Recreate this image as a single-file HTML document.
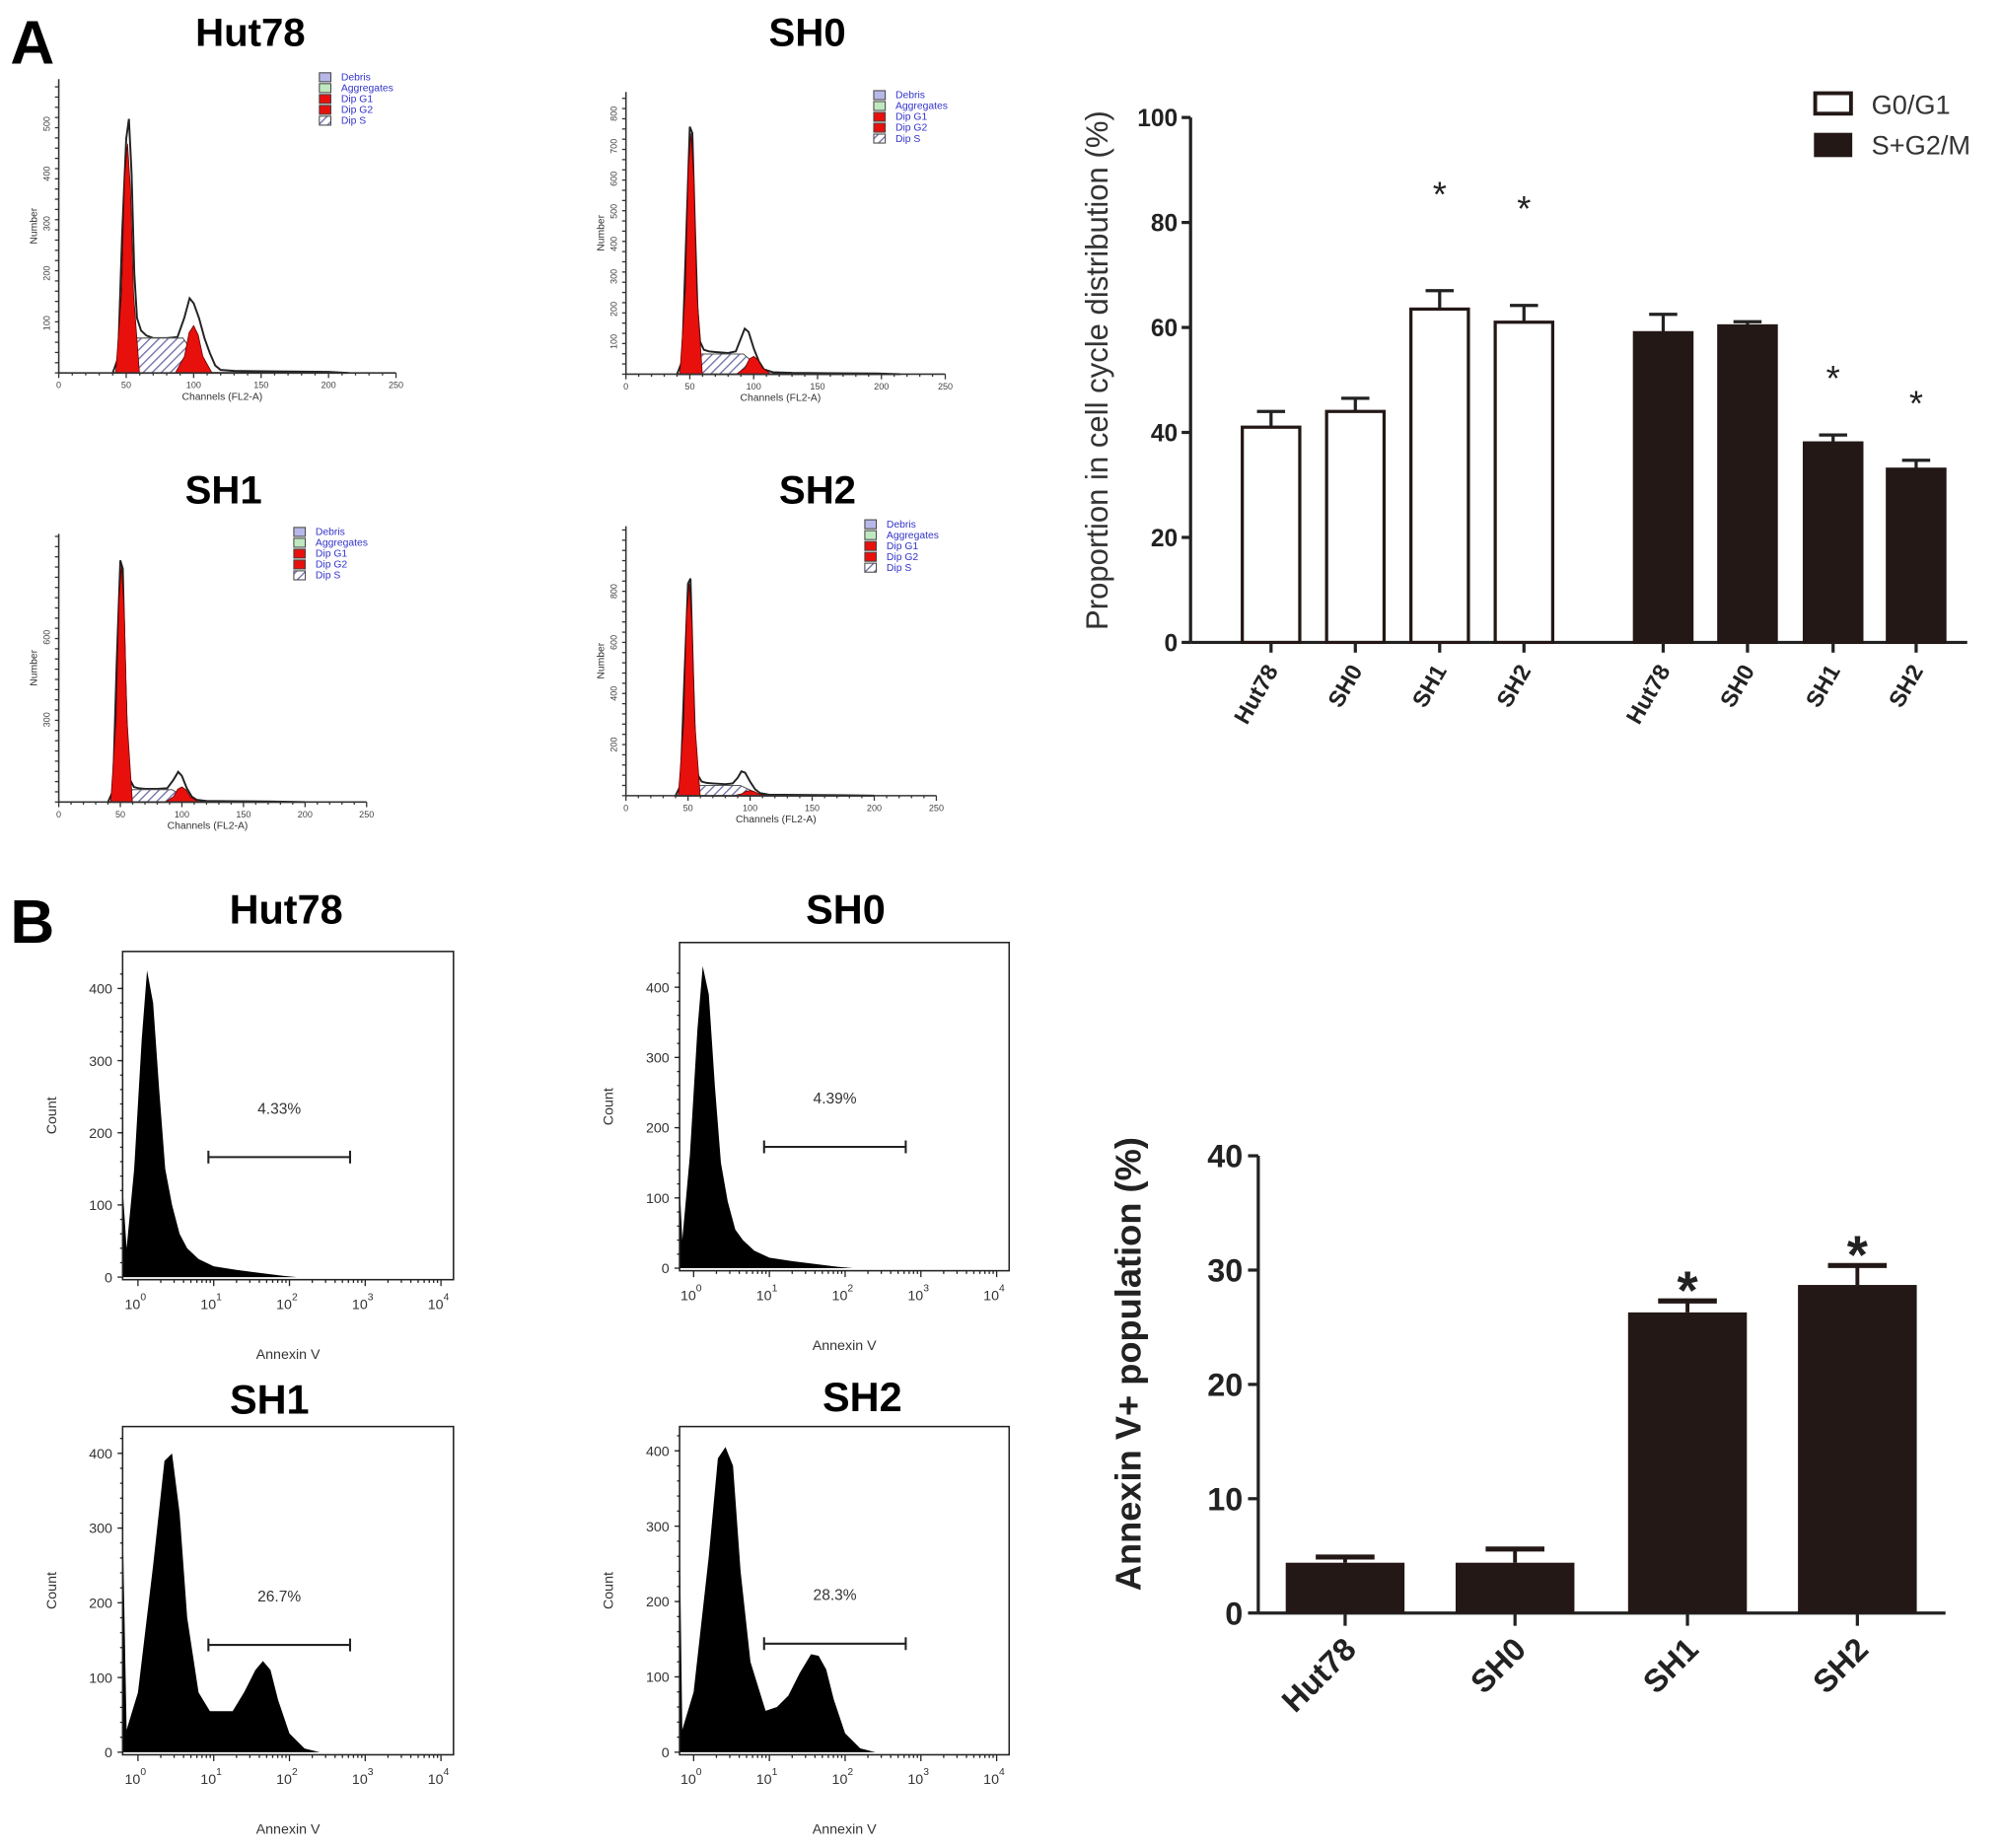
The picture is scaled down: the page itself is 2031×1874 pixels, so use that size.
<!DOCTYPE html>
<html><head><meta charset="utf-8"><style>
html,body{margin:0;padding:0;background:#fff;}
svg{display:block;font-family:"Liberation Sans",Arial,sans-serif;}
</style></head><body>
<svg id="fig" width="2031" height="1874" viewBox="0 0 1568 1447" preserveAspectRatio="none" xmlns="http://www.w3.org/2000/svg">
<defs>
<pattern id="hatch" patternUnits="userSpaceOnUse" width="5" height="5" patternTransform="rotate(45)">
<rect width="5" height="5" fill="#fff"/><line x1="0" y1="0" x2="0" y2="5" stroke="#6a6aa8" stroke-width="2"/></pattern>
</defs>
<text x="8" y="50" font-size="48" font-weight="bold">A</text>
<text x="8" y="738" font-size="48" font-weight="bold">B</text>
<g id="left"></g>
<g id="chartA"></g>
<g id="chartB"></g>
</svg>
<script>
// ===== Bar chart A data =====
const cycleCategories = ["Hut78","SH0","SH1","SH2"];
const g0g1Values = [41, 44, 63.5, 61];
const g0g1Errors = [3, 2.5, 3.5, 3.2];
const sg2mValues = [59, 60.3, 38, 33];
const sg2mErrors = [3.5, 0.8, 1.5, 1.7];
const g0g1Sig = [false, false, true, true];
const sg2mSig = [false, false, true, true];
const cycleTicks = [0,20,40,60,80,100];
// ===== Bar chart B data =====
const annexinCategories = ["Hut78","SH0","SH1","SH2"];
const annexinValues = [4.4, 4.4, 26.3, 28.7];
const annexinErrors = [0.5, 1.2, 1.0, 1.7];
const annexinSig = [false, false, true, true];
const annexinTicks = [0,10,20,30,40];
// ===== Cell-cycle histograms (channels, counts) =====
const ccHut78Ch = [40,44,47,50,52,54,56,58,61,65,70,80,88,93,97,100,104,108,112,116,120,130,160,200,215];
const ccHut78Tot = [0,30,280,470,510,400,200,110,85,75,70,70,72,110,150,140,110,70,40,15,6,4,3,2,0];
const ccSH0Ch = [40,44,47,50,52,54,56,58,61,65,70,80,86,90,93,96,100,104,108,115,130,160,200,215];
const ccSH0Tot = [0,40,400,760,740,450,200,100,75,70,68,65,70,110,140,130,80,40,15,6,4,3,2,0];
const ccSH1Ch = [40,44,47,50,52,54,56,58,61,65,70,80,88,93,97,100,104,108,112,120,140,170,200];
const ccSH1Tot = [0,40,500,880,850,450,160,80,55,50,48,48,50,80,110,95,50,20,8,4,3,2,0];
const ccSH2Ch = [40,44,47,50,52,54,56,58,61,65,70,80,86,90,93,96,100,104,108,115,140,170,200];
const ccSH2Tot = [0,40,450,830,850,480,160,80,55,50,48,45,48,70,95,90,55,25,10,4,3,2,0];
const g1Shape = [0,0.35,0.85,1,0.8,0.35,0];
const g1Offsets = [-8,-4,-2,0,2,4,8];
const ccG1Peaks = [460, 740, 860, 830];
const ccG2Peaks = [95, 55, 55, 20];
const ccSLevels = [70, 62, 45, 40];
// ===== Annexin histograms (log10 value, count) =====
const anHut78Log = [-0.2,-0.15,-0.05,0.05,0.12,0.2,0.28,0.36,0.45,0.55,0.65,0.8,1.0,1.3,1.6,1.9,2.1,4];
const anHut78Cnt = [120,40,150,330,425,380,260,150,100,60,40,25,15,10,6,2,0,0];
const anSH0Log = [-0.2,-0.15,-0.05,0.05,0.12,0.2,0.28,0.36,0.45,0.55,0.65,0.8,1.0,1.3,1.6,1.9,2.1,4];
const anSH0Cnt = [120,40,160,340,430,390,260,150,95,55,40,25,15,10,6,2,0,0];
const anSH1Log = [-0.2,-0.15,0,0.2,0.35,0.45,0.55,0.65,0.8,0.95,1.1,1.25,1.4,1.55,1.65,1.75,1.85,2.0,2.2,2.4,4];
const anSH1Cnt = [300,30,80,250,390,400,320,180,80,55,55,55,80,110,122,110,70,25,5,0,0];
const anSH2Log = [-0.2,-0.15,0,0.2,0.32,0.42,0.52,0.62,0.75,0.95,1.1,1.25,1.4,1.55,1.65,1.75,1.85,2.0,2.2,2.4,4];
const anSH2Cnt = [300,30,80,260,390,405,380,240,120,55,60,75,105,130,128,110,70,25,5,0,0];

const NS="http://www.w3.org/2000/svg";
function mk(tag, attrs, parent, txt){
  const e=document.createElementNS(NS,tag);
  for(const k in attrs) e.setAttribute(k,attrs[k]);
  if(txt!==undefined) e.textContent=txt;
  parent.appendChild(e); return e;
}
const left=document.getElementById('left');

// ---------- Cell cycle panels ----------
const ccPanels=[
 {name:"Hut78",ch:ccHut78Ch,tot:ccHut78Tot,i:0,x0:46,x1:310,base:292,top:62,ppc:0.39,title:[196,36],leg:[250,58],ylabs:[100,200,300,400,500]},
 {name:"SH0",ch:ccSH0Ch,tot:ccSH0Tot,i:1,x0:490,x1:740,base:293,top:72,ppc:0.255,title:[632,36],leg:[684,72],ylabs:[100,200,300,400,500,600,700,800]},
 {name:"SH1",ch:ccSH1Ch,tot:ccSH1Tot,i:2,x0:46,x1:287,base:628,top:418,ppc:0.215,title:[175,394],leg:[230,414],ylabs:[300,600]},
 {name:"SH2",ch:ccSH2Ch,tot:ccSH2Tot,i:3,x0:490,x1:733,base:623,top:412,ppc:0.2,title:[640,394],leg:[677,408],ylabs:[200,400,600,800]}
];
ccPanels.forEach(p=>{
  const g=mk('g',{},left);
  
  
  const t=mk('text',{x:p.title[0],y:p.title[1],'font-size':31,'font-weight':'bold','text-anchor':'middle'},g,p.name);
  
  
  const sx=c=>p.x0+c*(p.x1-p.x0)/250, sy=v=>p.base-v*p.ppc;
  let pts=p.ch.map((c,k)=>sx(c)+','+sy(p.tot[k])).join(' ');
  const tot=mk('polygon',{points:pts+' '+sx(p.ch[p.ch.length-1])+','+p.base+' '+sx(p.ch[0])+','+p.base,fill:'#fff',stroke:'#222','stroke-width':1.5},g);
  
  
  const sl=ccSLevels[p.i];
  const sp=mk('polygon',{points:[sx(45)+','+p.base,sx(55)+','+sy(sl),sx(92)+','+sy(sl),sx(110)+','+p.base].join(' '),fill:'url(#hatch)',stroke:'#555','stroke-width':0.8},g);
  
  
  const g1=g1Offsets.map((o,k)=>sx(51+o*1.1)+','+sy(ccG1Peaks[p.i]*g1Shape[k])).join(' ');
  const g1e=mk('polygon',{points:g1,fill:'#e8100c',stroke:'#600','stroke-width':0.6},g);
  
  
  const g2=g1Offsets.map((o,k)=>sx(100+o*1.7)+','+sy(ccG2Peaks[p.i]*g1Shape[k])).join(' ');
  const g2e=mk('polygon',{points:g2,fill:'#e8100c',stroke:'#600','stroke-width':0.6},g);
  
  
  mk('line',{x1:p.x0,y1:p.base,x2:p.x1,y2:p.base,stroke:'#333','stroke-width':1.2},g);
  mk('line',{x1:p.x0,y1:p.base,x2:p.x0,y2:p.top,stroke:'#333','stroke-width':1.2},g);
  for(let c=0;c<=250;c+=10){mk('line',{x1:sx(c),y1:p.base,x2:sx(c),y2:p.base+(c%50?2:4),stroke:'#333'},g);
    if(c%50===0) mk('text',{x:sx(c),y:p.base+12,'font-size':7,'text-anchor':'middle',fill:'#444'},g,c);}
  for(let y=p.base;y>p.top;y-=8) mk('line',{x1:p.x0-3,y1:y,x2:p.x0,y2:y,stroke:'#333'},g);
  p.ylabs.forEach(v=>{const yy=sy(v); if(yy>p.top) mk('text',{x:p.x0-7,y:yy,'font-size':7,fill:'#444','text-anchor':'middle',transform:`rotate(-90 ${p.x0-7} ${yy})`},g,v);});
  const xl=mk('text',{x:(p.x0+p.x1)/2-4,y:p.base+21,'font-size':8,'text-anchor':'middle',fill:'#333'},g,'Channels (FL2-A)');
  
  
  const ymid=(p.base+p.top)/2;
  const yl=mk('text',{x:p.x0-17,y:ymid,'font-size':8,'text-anchor':'middle',fill:'#333',transform:`rotate(-90 ${p.x0-17} ${ymid})`},g,'Number');
  
  
  const legNames=['Debris','Aggregates','Dip G1','Dip G2','Dip S'];
  const legFill=['#b8b8e8','#bfe8c0','#e8100c','#e8100c','url(#hatch)'];
  const lg=mk('g',{},g);
  
  
  legNames.forEach((n,k)=>{
    mk('rect',{x:p.leg[0],y:p.leg[1]+k*8.5-1,width:9,height:7,fill:legFill[k],stroke:'#444','stroke-width':0.8},lg);
    mk('text',{x:p.leg[0]+17,y:p.leg[1]+k*8.5+5,'font-size':8,fill:'#3333cc'},lg,n);
  });
});

// ---------- Annexin panels ----------
const anPanels=[
 {name:"Hut78",lg:anHut78Log,cn:anHut78Cnt,bx:[96,745,355,1002],d0:108,dw:59.3,base:1000,ppc:0.565,title:[224,723],pct:"4.33%",pctY:872,gateY:906},
 {name:"SH0",lg:anSH0Log,cn:anSH0Cnt,bx:[532,738,790,995],d0:543,dw:59.3,base:993,ppc:0.55,title:[662,723],pct:"4.39%",pctY:864,gateY:898},
 {name:"SH1",lg:anSH1Log,cn:anSH1Cnt,bx:[96,1117,355,1374],d0:108,dw:59.3,base:1372,ppc:0.585,title:[211,1107],pct:"26.7%",pctY:1254,gateY:1288},
 {name:"SH2",lg:anSH2Log,cn:anSH2Cnt,bx:[532,1117,790,1374],d0:543,dw:59.3,base:1372,ppc:0.59,title:[675,1105],pct:"28.3%",pctY:1253,gateY:1287}
];
anPanels.forEach(p=>{
  const g=mk('g',{},left);
  
  
  const t=mk('text',{x:p.title[0],y:p.title[1],'font-size':32,'font-weight':'bold','text-anchor':'middle'},g,p.name);
  
  
  const [bx0,by0,bx1,by1]=p.bx;
  const sx=l=>Math.min(bx1,Math.max(bx0,p.d0+l*p.dw)), sy=v=>p.base-v*p.ppc;
  const pts=p.lg.map((l,k)=>sx(l)+','+sy(p.cn[k])).join(' ');
  const h=mk('polygon',{points:pts+` ${bx1},${p.base} ${bx0},${p.base}`,fill:'#000'},g);
  
  
  mk('rect',{x:bx0,y:by0,width:bx1-bx0,height:by1-by0,fill:'none',stroke:'#222','stroke-width':1.2},g);
  [0,100,200,300,400].forEach(v=>{const yy=sy(v);
    mk('line',{x1:bx0-4,y1:yy,x2:bx0,y2:yy,stroke:'#222'},g);
    mk('text',{x:bx0-8,y:yy+4,'font-size':11,'text-anchor':'end',fill:'#333'},g,v);});
  for(let v=20;v<440;v+=20) mk('line',{x1:bx0-2,y1:sy(v),x2:bx0,y2:sy(v),stroke:'#222'},g);
  for(let d=0;d<=4;d++){const xx=p.d0+d*p.dw;
    mk('line',{x1:xx,y1:by1,x2:xx,y2:by1+5,stroke:'#222'},g);
    const tl=mk('text',{x:xx-2,y:by1+23,'font-size':11,'text-anchor':'middle',fill:'#333'},g,'10');
    mk('tspan',{dy:-7,'font-size':8},tl,d);
    for(let m=2;m<10&&d<4;m++){const mx=xx+Math.log10(m)*p.dw; mk('line',{x1:mx,y1:by1,x2:mx,y2:by1+2.5,stroke:'#222'},g);}
  }
  const xl=mk('text',{x:(bx0+bx1)/2,y:by1+62,'font-size':11,'text-anchor':'middle',fill:'#333'},g,'Annexin V');
  
  
  const ym=(by0+by1)/2;
  const yl=mk('text',{x:bx0-52,y:ym,'font-size':11,'text-anchor':'middle',fill:'#333',transform:`rotate(-90 ${bx0-52} ${ym})`},g,'Count');
  
  
  const gx0=p.d0+p.dw*0.93, gx1=p.d0+p.dw*2.8;
  const gate=mk('g',{},g);
  
  
  mk('line',{x1:gx0,y1:p.gateY,x2:gx1,y2:p.gateY,stroke:'#222','stroke-width':1.6},gate);
  mk('line',{x1:gx0,y1:p.gateY-5,x2:gx0,y2:p.gateY+5,stroke:'#222','stroke-width':1.6},gate);
  mk('line',{x1:gx1,y1:p.gateY-5,x2:gx1,y2:p.gateY+5,stroke:'#222','stroke-width':1.6},gate);
  const pl=mk('text',{x:(gx0+gx1)/2,y:p.pctY,'font-size':12,'text-anchor':'middle',fill:'#333'},g,p.pct);
  
  
});

// ---------- Chart A ----------
(function(){
  const g=document.getElementById('chartA');
  const ax0=932, y0=503, y100=92, xEnd=1540;
  const y=v=>y0-(v/100)*(y0-y100);
  const whiteX=[995,1061,1127,1193], blackX=[1302,1368,1435,1500], bw=45;
  mk('line',{x1:ax0,y1:y0,x2:xEnd,y2:y0,stroke:'#222','stroke-width':2.5},g);
  mk('line',{x1:ax0,y1:y0,x2:ax0,y2:y100,stroke:'#222','stroke-width':2.5},g);
  cycleTicks.forEach(v=>{mk('line',{x1:ax0-7,y1:y(v),x2:ax0,y2:y(v),stroke:'#222','stroke-width':2.5},g);
    const tl=mk('text',{x:ax0-10,y:y(v)+7,'font-size':19,'font-weight':'bold','text-anchor':'end',fill:'#222'},g,v);
    
    });
  function bars(vals,errs,sig,xs,fill,series,starGap){
    vals.forEach((v,i)=>{const cx=xs[i];
      mk('line',{x1:cx,y1:y(v),x2:cx,y2:y(v+errs[i]),stroke:'#222','stroke-width':2.5},g);
      mk('line',{x1:cx-11,y1:y(v+errs[i]),x2:cx+11,y2:y(v+errs[i]),stroke:'#222','stroke-width':2.5},g);
      const r=mk('rect',{x:cx-bw/2,y:y(v),width:bw,height:y0-y(v),fill:fill,stroke:'#231816','stroke-width':2.5},g);
      
      
      mk('line',{x1:cx,y1:y0,x2:cx,y2:y0+8,stroke:'#222','stroke-width':2.5},g);
      const lb=mk('text',{x:cx+6,y:y0+22,'font-size':18,'font-weight':'bold','text-anchor':'end',fill:'#222',transform:`rotate(-60 ${cx+6} ${y0+22})`},g,cycleCategories[i]);
      
      
      if(sig[i]){const s=mk('text',{x:cx,y:y(v+errs[i])-starGap,'font-size':28,'text-anchor':'middle',fill:'#222'},g,'*');
        
        }
    });
  }
  bars(g0g1Values,g0g1Errors,g0g1Sig,whiteX,'#fff','g0g1',66);
  bars(sg2mValues,sg2mErrors,sg2mSig,blackX,'#231816','sg2m',35);
  const yt=mk('text',{x:867,y:290,'font-size':24,'text-anchor':'middle',fill:'#333',transform:'rotate(-90 867 290)'},g,'Proportion in cell cycle distribution (%)');
  
  
  const lg=mk('g',{},g);
  
  
  mk('rect',{x:1421,y:73,width:28,height:16,fill:'#fff',stroke:'#231816','stroke-width':3},lg);
  mk('text',{x:1465,y:89,'font-size':21,fill:'#333'},lg,'G0/G1');
  mk('rect',{x:1420,y:104,width:30,height:19,fill:'#231816'},lg);
  mk('text',{x:1465,y:121,'font-size':21,fill:'#333'},lg,'S+G2/M');
})();

// ---------- Chart B ----------
(function(){
  const g=document.getElementById('chartB');
  const ax0=985, y0=1263, y40=905, xEnd=1523;
  const y=v=>y0-(v/40)*(y0-y40);
  const xs=[1053,1186,1321,1454], bw=93;
  mk('line',{x1:ax0,y1:y0,x2:xEnd,y2:y0,stroke:'#222','stroke-width':2.5},g);
  mk('line',{x1:ax0,y1:y0,x2:ax0,y2:y40,stroke:'#222','stroke-width':2.5},g);
  annexinTicks.forEach(v=>{mk('line',{x1:ax0-8,y1:y(v),x2:ax0,y2:y(v),stroke:'#222','stroke-width':2.5},g);
    const tl=mk('text',{x:ax0-12,y:y(v)+9,'font-size':25,'font-weight':'bold','text-anchor':'end',fill:'#222'},g,v);
    
    });
  annexinValues.forEach((v,i)=>{const cx=xs[i];
    mk('line',{x1:cx,y1:y(v),x2:cx,y2:y(v+annexinErrors[i]),stroke:'#231816','stroke-width':3},g);
    mk('line',{x1:cx-23,y1:y(v+annexinErrors[i]),x2:cx+23,y2:y(v+annexinErrors[i]),stroke:'#231816','stroke-width':4},g);
    const r=mk('rect',{x:cx-bw/2,y:y(v),width:bw,height:y0-y(v),fill:'#231816'},g);
    
    
    mk('line',{x1:cx,y1:y0,x2:cx,y2:y0+10,stroke:'#222','stroke-width':2.5},g);
    const lb=mk('text',{x:cx+10,y:y0+30,'font-size':25,'font-weight':'bold','text-anchor':'end',fill:'#222',transform:`rotate(-45 ${cx+10} ${y0+30})`},g,annexinCategories[i]);
    
    
    if(annexinSig[i]){const s=mk('text',{x:cx,y:y(v+annexinErrors[i])+6,'font-size':42,'font-weight':'bold','text-anchor':'middle',fill:'#222'},g,'*');
      
      }
  });
  const yt=mk('text',{x:893,y:1068,'font-size':28,'font-weight':'bold','text-anchor':'middle',fill:'#222',transform:'rotate(-90 893 1068)'},g,'Annexin V+ population (%)');
  
  
})();
</script>
</body></html>
